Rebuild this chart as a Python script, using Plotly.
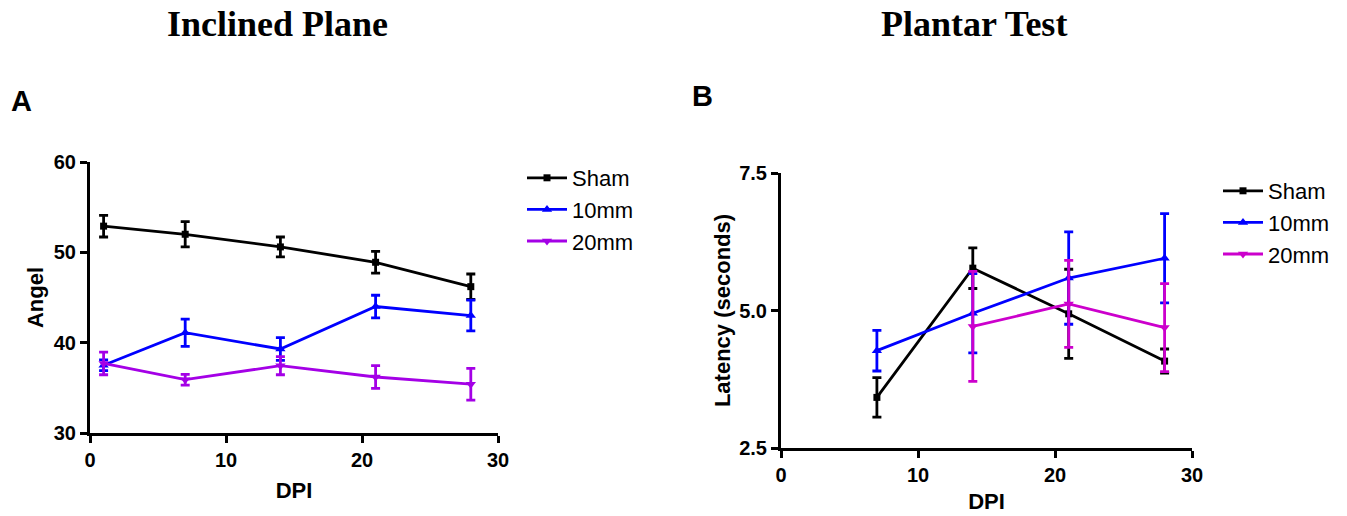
import plotly.graph_objects as go

# ---- Inclined Plane (panel A) ----
dpi_a = [1, 7, 14, 21, 28]
angle_sham = [52.9, 52.0, 50.6, 48.9, 46.2]
angle_sham_err = [1.2, 1.4, 1.1, 1.2, 1.4]
angle_10mm = [37.5, 41.1, 39.3, 44.0, 43.0]
angle_10mm_err = [0.6, 1.5, 1.25, 1.25, 1.7]
angle_20mm = [37.7, 35.9, 37.45, 36.2, 35.4]
angle_20mm_err = [1.25, 0.6, 1.0, 1.25, 1.75]

# ---- Plantar Test (panel B) ----
dpi_b = [7, 14, 21, 28]
lat_sham = [3.42, 5.77, 4.94, 4.08]
lat_sham_err = [0.36, 0.37, 0.81, 0.22]
lat_10mm = [4.27, 4.95, 5.59, 5.95]
lat_10mm_err = [0.37, 0.72, 0.84, 0.81]
dpi_b20 = [14, 21, 28]
lat_20mm = [4.71, 5.12, 4.69]
lat_20mm_err = [1.0, 0.79, 0.8]

group_names = ["Sham", "10mm", "20mm"]
symbols = ["square", "triangle-up", "triangle-down"]
colors_a = ["#000000", "#0000FF", "#A400E6"]
colors_b = ["#000000", "#0000FF", "#CC00CC"]

fig = go.Figure()


def add_series(x, y, err, name, sym, color, xa, ya, legend):
    msize = 7 if sym == "square" else 9
    fig.add_trace(go.Scatter(
        x=x, y=y, name=name, mode="lines+markers",
        line=dict(color=color, width=2.8),
        marker=dict(symbol=sym, size=msize, color=color),
        error_y=dict(type="data", array=err, visible=True,
                     color=color, thickness=2.8, width=4.5),
        xaxis=xa, yaxis=ya, legend=legend,
    ))


for name, ys, es, sym, col in zip(group_names,
                                  [angle_sham, angle_10mm, angle_20mm],
                                  [angle_sham_err, angle_10mm_err, angle_20mm_err],
                                  symbols, colors_a):
    add_series(dpi_a, ys, es, name, sym, col, "x", "y", "legend")

for name, xs, ys, es, sym, col in zip(group_names,
                                      [dpi_b, dpi_b, dpi_b20],
                                      [lat_sham, lat_10mm, lat_20mm],
                                      [lat_sham_err, lat_10mm_err, lat_20mm_err],
                                      symbols, colors_b):
    add_series(xs, ys, es, name, sym, col, "x2", "y2", "legend2")

W, H = 1347, 516


def px(x):
    return x / W


def py(y):
    return 1 - y / H


tick_font = dict(family="Liberation Sans", size=20, color="black", weight="bold")
title_font = dict(family="Liberation Sans", size=22, color="black", weight="bold")
legend_font = dict(family="Liberation Sans", size=22, color="black")

axis_common = dict(showline=True, linewidth=3, linecolor="black",
                   ticks="outside", ticklen=7, tickwidth=3, tickcolor="black",
                   showgrid=False, zeroline=False, tickfont=tick_font,
                   title_font=title_font, automargin=False)

fig.update_layout(
    width=W, height=H,
    margin=dict(l=0, r=0, t=0, b=0, autoexpand=False),
    paper_bgcolor="white", plot_bgcolor="white",
    xaxis=dict(domain=[px(90), px(498)], range=[0, 30], tickvals=[0, 10, 20, 30],
               anchor="y", title=dict(text="DPI", standoff=13), **axis_common),
    yaxis=dict(domain=[py(433), py(162)], range=[30, 60],
               tickvals=[30, 40, 50, 60], anchor="x",
               title=dict(text="Angel", standoff=5), **axis_common),
    xaxis2=dict(domain=[px(781), px(1192)], range=[0, 30], tickvals=[0, 10, 20, 30],
                anchor="y2", title=dict(text="DPI", standoff=9), **axis_common),
    yaxis2=dict(domain=[py(448), py(173)], range=[2.5, 7.5],
                tickvals=[2.5, 5.0, 7.5], ticktext=["2.5", "5.0", "7.5"],
                anchor="x2", title=dict(text="Latency (seconds)", standoff=3),
                **axis_common),
    legend=dict(x=px(522), y=py(157), xanchor="left", yanchor="top",
                font=legend_font, itemwidth=40, bgcolor="rgba(0,0,0,0)"),
    legend2=dict(x=px(1218), y=py(170), xanchor="left", yanchor="top",
                 font=legend_font, itemwidth=40, bgcolor="rgba(0,0,0,0)"),
    annotations=[
        dict(text="<b>Inclined Plane</b>", x=px(277), y=py(24), xref="paper",
             yref="paper", showarrow=False, xanchor="center", yanchor="middle",
             font=dict(family="Liberation Serif", size=36, color="black")),
        dict(text="<b>Plantar Test</b>", x=px(974), y=py(24), xref="paper",
             yref="paper", showarrow=False, xanchor="center", yanchor="middle",
             font=dict(family="Liberation Serif", size=36, color="black")),
        dict(text="<b>A</b>", x=px(9), y=py(101), xref="paper", yref="paper",
             showarrow=False, xanchor="left", yanchor="middle",
             font=dict(family="Liberation Sans", size=29, color="black")),
        dict(text="<b>B</b>", x=px(690), y=py(96), xref="paper", yref="paper",
             showarrow=False, xanchor="left", yanchor="middle",
             font=dict(family="Liberation Sans", size=29, color="black")),
    ],
)

fig.write_html("out.html")
